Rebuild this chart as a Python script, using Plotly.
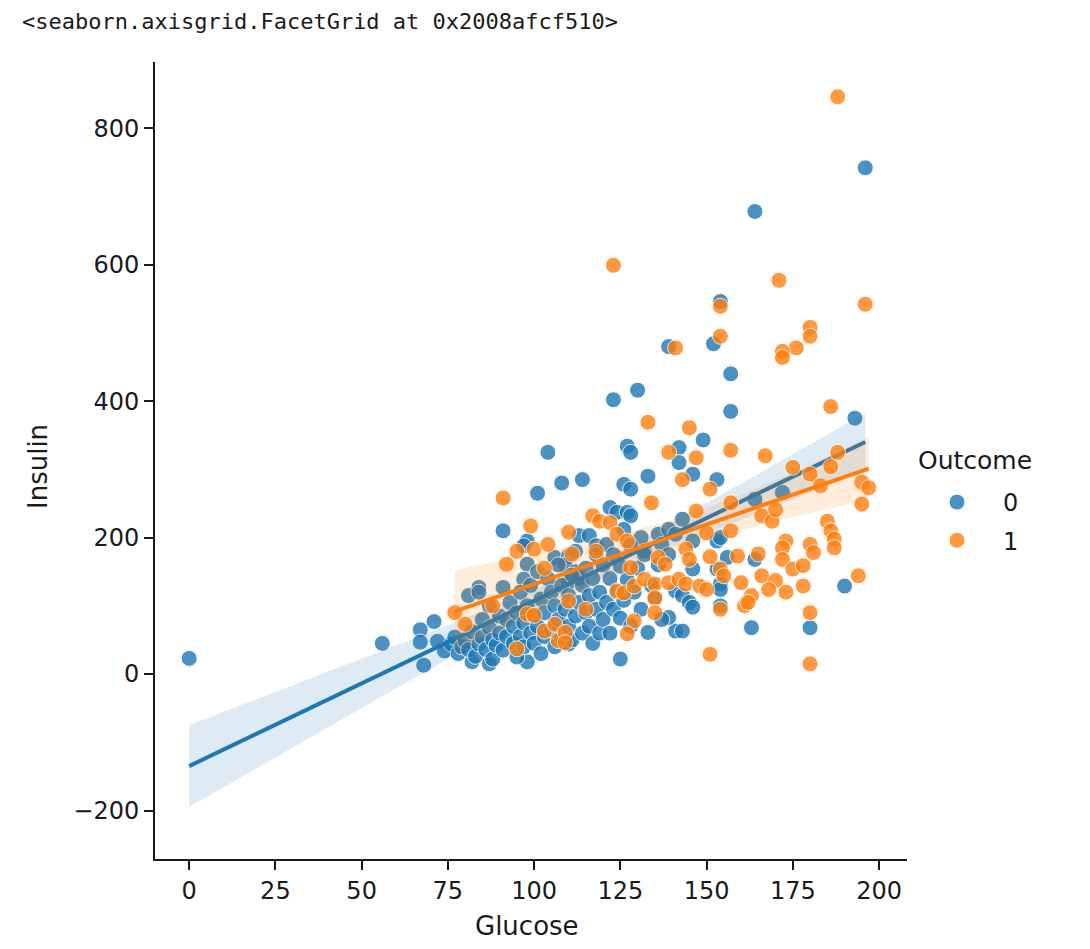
import numpy as np
import plotly.graph_objects as go

# ---------------- data ----------------
blue_glucose = [0, 56, 67, 71, 67, 68, 91, 101, 108, 114, 104, 98, 97, 98, 106, 110, 97, 91, 84, 81,
                84, 87, 82, 87, 98, 126, 128, 133, 146, 153, 122, 124, 127, 128, 143, 136, 139, 141, 146, 153,
                154, 113, 116, 118, 131, 132, 137, 139, 146, 141, 143, 109, 112, 110, 113, 110, 125, 133, 141, 143,
                139, 145, 146, 154, 153, 154, 164, 172, 156, 164, 190, 163, 180, 154, 196, 164, 154, 139, 152, 157,
                130, 123, 157, 193, 149, 127, 128, 142, 142,
                72, 74, 76, 77, 78, 79, 80, 81, 82, 83, 84, 85, 85, 86, 87, 88, 88, 89, 90, 90,
                91, 92, 92, 93, 94, 94, 95, 95, 96, 96, 97, 97, 98, 99, 99, 100, 100, 101, 101, 102,
                102, 103, 103, 104, 105, 105, 106, 106, 107, 107, 108, 108, 109, 110, 110, 111, 111, 112, 112, 113,
                114, 114, 115, 115, 116, 116, 117, 117, 118, 118, 119, 119, 120, 120, 121, 121, 122, 122, 123, 123,
                124, 125, 125, 126, 126, 127, 128, 128, 129, 130, 131, 132, 134, 135, 136, 137]
blue_insulin = [23, 45, 65, 77, 47, 13, 210, 265, 280, 285, 325, 195, 188, 161, 171, 173, 139, 127, 127, 115,
                120, 100, 18, 15, 18, 278, 271, 290, 293, 285, 244, 237, 237, 232, 227, 205, 212, 205, 195, 195,
                200, 203, 203, 188, 200, 180, 190, 175, 154, 122, 115, 160, 150, 135, 140, 44, 22, 61, 63, 63,
                83, 105, 98, 100, 154, 132, 256, 266, 171, 168, 129, 68, 68, 124, 742, 678, 546, 480, 484, 440,
                416, 402, 385, 375, 343, 334, 325, 332, 310,
                48, 34, 44, 54, 30, 40, 48, 36, 62, 26, 44, 54, 80, 36, 68, 50, 22, 42, 60, 85,
                35, 55, 80, 105, 45, 70, 25, 90, 55, 120, 40, 75, 100, 60, 130, 45, 85, 70, 150, 30,
                110, 55, 90, 140, 65, 120, 40, 100, 80, 160, 55, 130, 95, 70, 115, 50, 145, 85, 180, 105,
                60, 130, 90, 155, 70, 115, 45, 140, 95, 175, 60, 120, 80, 160, 105, 190, 60, 140, 95, 175,
                120, 82, 158, 108, 212, 138, 70, 188, 120, 155, 95, 175, 130, 110, 160, 80]

orange_glucose = [188, 123, 171, 196, 154, 180, 180, 176, 172, 172, 141, 154, 186, 133, 145, 139, 147, 157, 167, 188,
                  175, 186, 91, 99, 110, 95, 100, 104, 92, 103, 77, 80, 88, 95, 98, 100, 103, 106, 107, 109,
                  109, 110, 143, 151, 134, 117, 119, 122, 124, 127, 111, 118, 147, 150, 157, 144, 145, 136, 138, 151,
                  154, 155, 128, 124, 126, 129, 132, 135, 139, 142, 144, 148, 150, 135, 135, 115, 129, 127, 151, 180,
                  183, 195, 197, 195, 157, 166, 169, 170, 185, 186, 187, 187, 173, 172, 180, 181, 172, 175, 178, 159,
                  165, 166, 170, 168, 173, 178, 160, 194, 163, 161, 162, 154, 180, 180]
orange_insulin = [846, 599, 577, 542, 539, 508, 495, 478, 473, 464, 478, 495, 392, 369, 361, 325, 317, 328, 320, 325,
                  303, 304, 258, 217, 208, 180, 183, 190, 161, 155, 90, 73, 100, 37, 88, 86, 63, 73, 49, 61,
                  46, 107, 285, 271, 251, 232, 224, 222, 205, 195, 176, 180, 239, 207, 210, 183, 168, 171, 161, 172,
                  154, 144, 156, 122, 119, 129, 139, 132, 134, 139, 132, 129, 124, 112, 90, 95, 78, 59, 29, 293,
                  276, 281, 273, 249, 251, 232, 224, 241, 224, 210, 198, 185, 195, 185, 190, 178, 168, 154, 159, 173,
                  176, 144, 137, 124, 120, 129, 134, 144, 115, 100, 105, 95, 90, 15]

outcome_labels = ["0", "1"]
x_ticks = [0, 25, 50, 75, 100, 125, 150, 175, 200]
y_ticks = [-200, 0, 200, 400, 600, 800]

colors = ["#1f77b4", "#ff7f0e"]
bands = ["rgba(31,119,180,0.15)", "rgba(255,127,14,0.15)"]

# ---------------- layout geometry (page pixels; page has an 8px body margin) ----------------
OFF = 8
W, H = 1090 - 2 * OFF, 949 - 2 * OFF
PL, PR, PT, PB = 155, 907, 62, 859


def px_x(p):
    return (p - PL) / (PR - PL)


def px_y(p):
    return (PB - p) / (PB - PT)


def fit_with_ci(x, y, n_grid=100):
    x = np.asarray(x, float)
    y = np.asarray(y, float)
    n = len(x)
    slope, intercept = np.polyfit(x, y, 1)
    grid = np.linspace(x.min(), x.max(), n_grid)
    yhat = intercept + slope * grid
    resid = y - (intercept + slope * x)
    s = np.sqrt(np.sum(resid ** 2) / (n - 2))
    sxx = np.sum((x - x.mean()) ** 2)
    se = s * np.sqrt(1.0 / n + (grid - x.mean()) ** 2 / sxx)
    t = 1.97
    return grid, yhat, yhat - t * se, yhat + t * se


fig = go.Figure()
groups = [(blue_glucose, blue_insulin), (orange_glucose, orange_insulin)]
for i, (gx, gy) in enumerate(groups):
    fig.add_trace(go.Scatter(
        x=gx, y=gy, mode="markers", name=outcome_labels[i], legendgroup=outcome_labels[i],
        marker=dict(size=16, color=colors[i], opacity=0.8, line=dict(width=1, color="white")),
        showlegend=True))
    grid, yhat, lo, hi = fit_with_ci(gx, gy)
    fig.add_trace(go.Scatter(
        x=np.concatenate([grid, grid[::-1]]), y=np.concatenate([hi, lo[::-1]]),
        fill="toself", fillcolor=bands[i], line=dict(width=0), mode="lines",
        hoverinfo="skip", showlegend=False))
    fig.add_trace(go.Scatter(
        x=grid, y=yhat, mode="lines", line=dict(color=colors[i], width=4),
        hoverinfo="skip", showlegend=False))

tick_font = dict(family="DejaVu Sans", size=24, color="#1a1a1a")
axis_common = dict(showline=True, linecolor="#1a1a1a", linewidth=2, ticks="outside",
                   ticklen=9, tickwidth=1.6, tickcolor="#1a1a1a", showgrid=False,
                   zeroline=False, tickfont=tick_font, mirror=False)

fig.update_xaxes(range=[-9.9, 208.1], tickvals=x_ticks, ticktext=[str(v) for v in x_ticks], **axis_common)
fig.update_yaxes(range=[-271, 897], tickvals=y_ticks,
                 ticktext=[("\u2212" + str(-v)) if v < 0 else str(v) for v in y_ticks], **axis_common)

fig.update_layout(
    width=W, height=H, autosize=False,
    margin=dict(l=PL - OFF, r=W - (PR - OFF), t=PT - OFF, b=H - (PB - OFF)),
    paper_bgcolor="white", plot_bgcolor="white",
    font=dict(family="DejaVu Sans", color="#1a1a1a"),
    legend=dict(
        font=dict(family="DejaVu Sans", size=24),
        x=px_x(911), y=px_y(480), xanchor="left", yanchor="top",
        bgcolor="rgba(0,0,0,0)", itemwidth=82, tracegroupgap=4,
    ),
    annotations=[
        dict(text="&lt;seaborn.axisgrid.FacetGrid at 0x2008afcf510&gt;", x=px_x(21), y=px_y(OFF),
             xref="paper", yref="paper", xanchor="left", yanchor="top", showarrow=False, borderpad=0,
             font=dict(family="DejaVu Sans Mono", size=22, color="#1a1a1a")),
        dict(text="Glucose", x=px_x(527), y=px_y(926), xref="paper", yref="paper",
             xanchor="center", yanchor="middle", showarrow=False,
             font=dict(family="DejaVu Sans", size=26, color="#1a1a1a")),
        dict(text="Insulin", x=px_x(38), y=px_y(467), xref="paper", yref="paper", textangle=-90,
             xanchor="center", yanchor="middle", showarrow=False,
             font=dict(family="DejaVu Sans", size=26, color="#1a1a1a")),
        dict(text="Outcome", x=px_x(975), y=px_y(460), xref="paper", yref="paper",
             xanchor="center", yanchor="middle", showarrow=False,
             font=dict(family="DejaVu Sans", size=25, color="#1a1a1a")),
    ],
)

fig.write_html("out.html")
